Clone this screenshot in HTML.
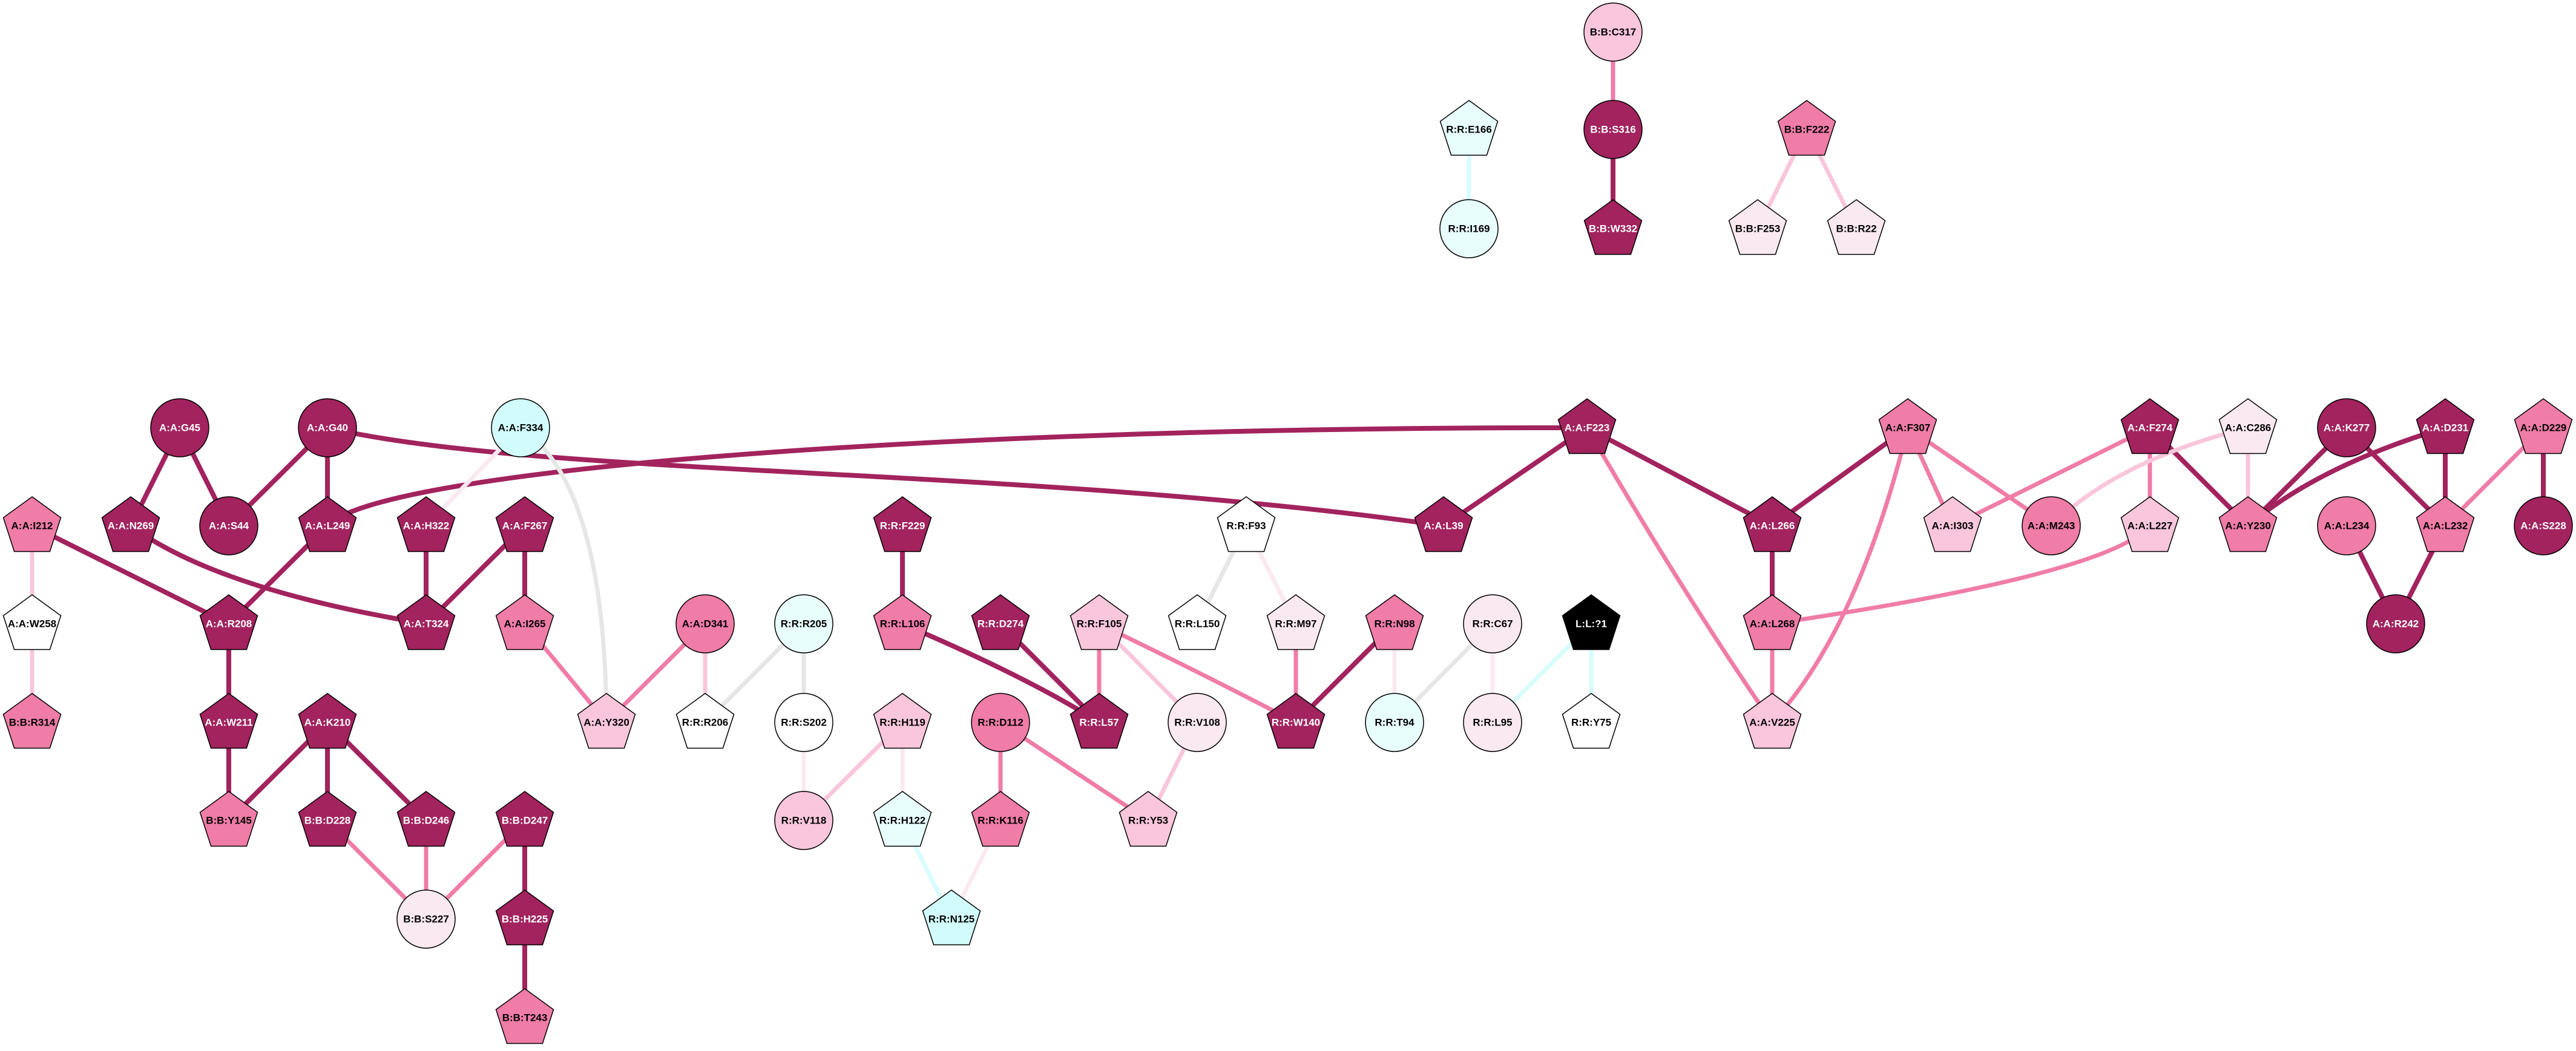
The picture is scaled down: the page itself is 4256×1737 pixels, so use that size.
<!DOCTYPE html>
<html><head><meta charset="utf-8"><style>
html,body{margin:0;padding:0;background:#fff}
svg{display:block}
text{font-family:"Liberation Sans",Arial,sans-serif;font-weight:bold;font-size:17px;text-anchor:middle;dominant-baseline:central}
.w{fill:#fff}.b{fill:#000}
</style></head><body>
<svg width="4256" height="1737" viewBox="0 0 4256 1737" xmlns="http://www.w3.org/2000/svg">
<defs>
<polygon id="p" points="0,-48 47.5,-13.5 29.4,42.5 -29.4,42.5 -47.5,-13.5" stroke="#000" stroke-width="1.5"/>
<circle id="c" r="48" stroke="#000" stroke-width="1.5"/>
</defs>
<g fill="none" stroke-linecap="butt">
<!-- dark edges -->
<g stroke="#a2235e" stroke-width="8">
<line x1="297" y1="707" x2="216" y2="869"/>
<line x1="297" y1="707" x2="378" y2="869"/>
<line x1="541" y1="707" x2="378" y2="869"/>
<line x1="541" y1="707" x2="541" y2="869"/>
<path d="M541 707 C900 790,1700 770,2385 869"/>
<path d="M541 869 C620 780,1500 705,2622 707"/>
<line x1="53" y1="869" x2="378" y2="1031"/>
<path d="M216 869 Q360 975 704 1031"/>
<line x1="541" y1="869" x2="378" y2="1031"/>
<line x1="704" y1="869" x2="704" y2="1031"/>
<line x1="867" y1="869" x2="704" y2="1031"/>
<line x1="867" y1="869" x2="867" y2="1031"/>
<line x1="378" y1="1031" x2="378" y2="1194"/>
<line x1="378" y1="1194" x2="378" y2="1356"/>
<line x1="541" y1="1194" x2="378" y2="1356"/>
<line x1="541" y1="1194" x2="541" y2="1356"/>
<line x1="541" y1="1194" x2="704" y2="1356"/>
<line x1="867" y1="1356" x2="867" y2="1519"/>
<line x1="867" y1="1519" x2="867" y2="1682"/>
<line x1="2665" y1="214" x2="2665" y2="378"/>
<line x1="1491" y1="869" x2="1491" y2="1031"/>
<path d="M1491 1031 Q1700 1120 1816 1194"/>
<line x1="1653" y1="1031" x2="1816" y2="1194"/>
<line x1="2304" y1="1031" x2="2141" y2="1194"/>
<line x1="2622" y1="707" x2="2385" y2="869"/>
<line x1="2622" y1="707" x2="2928" y2="869"/>
<line x1="3152" y1="707" x2="2928" y2="869"/>
<line x1="2928" y1="869" x2="2928" y2="1031"/>
<line x1="3552" y1="707" x2="3714" y2="869"/>
<line x1="3877" y1="707" x2="3714" y2="869"/>
<path d="M4040 707 Q3830 770 3714 869"/>
<line x1="3877" y1="707" x2="4040" y2="869"/>
<line x1="4040" y1="707" x2="4040" y2="869"/>
<line x1="4202" y1="707" x2="4202" y2="869"/>
<line x1="3877" y1="869" x2="3958" y2="1031"/>
<line x1="4040" y1="869" x2="3958" y2="1031"/>
</g>
<!-- medium pink -->
<g stroke="#f07ca8" stroke-width="7">
<line x1="2665" y1="53" x2="2665" y2="214"/>
<line x1="867" y1="1031" x2="1002" y2="1194"/>
<line x1="1165" y1="1031" x2="1002" y2="1194"/>
<line x1="541" y1="1356" x2="704" y2="1519"/>
<line x1="704" y1="1356" x2="704" y2="1519"/>
<line x1="867" y1="1356" x2="704" y2="1519"/>
<line x1="1816" y1="1031" x2="1816" y2="1194"/>
<path d="M1816 1031 Q2000 1120 2141 1194"/>
<line x1="2141" y1="1031" x2="2141" y2="1194"/>
<line x1="1653" y1="1194" x2="1653" y2="1356"/>
<line x1="1653" y1="1194" x2="1897" y2="1356"/>
<path d="M2622 707 Q2780 980 2928 1194"/>
<line x1="2928" y1="1031" x2="2928" y2="1194"/>
<path d="M3152 707 Q3070 1040 2928 1194"/>
<line x1="3152" y1="707" x2="3226" y2="869"/>
<line x1="3152" y1="707" x2="3389" y2="869"/>
<line x1="3552" y1="707" x2="3226" y2="869"/>
<line x1="3552" y1="707" x2="3552" y2="869"/>
<path d="M3552 869 Q3480 950 2928 1031"/>
<line x1="4202" y1="707" x2="4040" y2="869"/>
</g>
<!-- light pink -->
<g stroke="#f9c6dc" stroke-width="7">
<line x1="53" y1="869" x2="53" y2="1194"/>
<line x1="1165" y1="1031" x2="1165" y2="1194"/>
<line x1="1491" y1="1194" x2="1328" y2="1356"/>
<line x1="1816" y1="1031" x2="1978" y2="1194"/>
<line x1="1978" y1="1194" x2="1897" y2="1356"/>
<path d="M3714 707 Q3500 760 3389 869"/>
<line x1="3714" y1="707" x2="3714" y2="869"/>
<line x1="2985" y1="214" x2="2904" y2="378"/>
<line x1="2985" y1="214" x2="3067" y2="378"/>
</g>
<!-- very light pink -->
<g stroke="#fbe9f1" stroke-width="7">
<line x1="860" y1="707" x2="704" y2="869"/>
<line x1="1328" y1="1194" x2="1328" y2="1356"/>
<line x1="1491" y1="1194" x2="1491" y2="1356"/>
<line x1="1653" y1="1356" x2="1572" y2="1519"/>
<line x1="2059" y1="869" x2="2141" y2="1031"/>
<line x1="2304" y1="1031" x2="2304" y2="1194"/>
<line x1="2466" y1="1031" x2="2466" y2="1194"/>
</g>
<!-- gray -->
<g stroke="#e6e6e6" stroke-width="7">
<path d="M860 707 Q1000 800 1002 1194"/>
<line x1="1328" y1="1031" x2="1165" y2="1194"/>
<line x1="1328" y1="1031" x2="1328" y2="1194"/>
<line x1="2059" y1="869" x2="1978" y2="1031"/>
<line x1="2466" y1="1031" x2="2304" y2="1194"/>
</g>
<!-- cyan -->
<g stroke="#d8fdfd" stroke-width="7">
<line x1="1491" y1="1356" x2="1572" y2="1519"/>
<line x1="2629" y1="1031" x2="2466" y2="1194"/>
<line x1="2629" y1="1031" x2="2629" y2="1194"/>
<line x1="2427" y1="214" x2="2427" y2="378"/>
</g>
</g>

<!-- nodes -->
<g>
<use href="#c" x="297" y="707" fill="#a2235e"/><text x="297" y="707" class="w">A:A:G45</text>
<use href="#c" x="541" y="707" fill="#a2235e"/><text x="541" y="707" class="w">A:A:G40</text>
<use href="#c" x="860" y="707" fill="#d2fcfc"/><text x="860" y="707">A:A:F334</text>
<use href="#p" x="53" y="869" fill="#f07ca8"/><text x="53" y="869">A:A:I212</text>
<use href="#p" x="216" y="869" fill="#a2235e"/><text x="216" y="869" class="w">A:A:N269</text>
<use href="#c" x="378" y="869" fill="#a2235e"/><text x="378" y="869" class="w">A:A:S44</text>
<use href="#p" x="541" y="869" fill="#a2235e"/><text x="541" y="869" class="w">A:A:L249</text>
<use href="#p" x="704" y="869" fill="#a2235e"/><text x="704" y="869" class="w">A:A:H322</text>
<use href="#p" x="867" y="869" fill="#a2235e"/><text x="867" y="869" class="w">A:A:F267</text>
<use href="#p" x="53" y="1031" fill="#fff"/><text x="53" y="1031">A:A:W258</text>
<use href="#p" x="378" y="1031" fill="#a2235e"/><text x="378" y="1031" class="w">A:A:R208</text>
<use href="#p" x="704" y="1031" fill="#a2235e"/><text x="704" y="1031" class="w">A:A:T324</text>
<use href="#p" x="867" y="1031" fill="#f07ca8"/><text x="867" y="1031">A:A:I265</text>
<use href="#p" x="53" y="1194" fill="#f07ca8"/><text x="53" y="1194">B:B:R314</text>
<use href="#p" x="378" y="1194" fill="#a2235e"/><text x="378" y="1194" class="w">A:A:W211</text>
<use href="#p" x="541" y="1194" fill="#a2235e"/><text x="541" y="1194" class="w">A:A:K210</text>
<use href="#p" x="1002" y="1194" fill="#f9c6dc"/><text x="1002" y="1194">A:A:Y320</text>
<use href="#p" x="378" y="1356" fill="#f07ca8"/><text x="378" y="1356">B:B:Y145</text>
<use href="#p" x="541" y="1356" fill="#a2235e"/><text x="541" y="1356" class="w">B:B:D228</text>
<use href="#p" x="704" y="1356" fill="#a2235e"/><text x="704" y="1356" class="w">B:B:D246</text>
<use href="#p" x="867" y="1356" fill="#a2235e"/><text x="867" y="1356" class="w">B:B:D247</text>
<use href="#c" x="704" y="1519" fill="#fbe9f1"/><text x="704" y="1519">B:B:S227</text>
<use href="#p" x="867" y="1519" fill="#a2235e"/><text x="867" y="1519" class="w">B:B:H225</text>
<use href="#p" x="867" y="1682" fill="#f07ca8"/><text x="867" y="1682">B:B:T243</text>

<use href="#p" x="1491" y="869" fill="#a2235e"/><text x="1491" y="869" class="w">R:R:F229</text>
<use href="#p" x="2059" y="869" fill="#fff"/><text x="2059" y="869">R:R:F93</text>
<use href="#c" x="1165" y="1031" fill="#f07ca8"/><text x="1165" y="1031">A:A:D341</text>
<use href="#c" x="1328" y="1031" fill="#e8fefd"/><text x="1328" y="1031">R:R:R205</text>
<use href="#p" x="1491" y="1031" fill="#f07ca8"/><text x="1491" y="1031">R:R:L106</text>
<use href="#p" x="1653" y="1031" fill="#a2235e"/><text x="1653" y="1031" class="w">R:R:D274</text>
<use href="#p" x="1816" y="1031" fill="#f9c6dc"/><text x="1816" y="1031">R:R:F105</text>
<use href="#p" x="1978" y="1031" fill="#fff"/><text x="1978" y="1031">R:R:L150</text>
<use href="#p" x="2141" y="1031" fill="#fbe9f1"/><text x="2141" y="1031">R:R:M97</text>
<use href="#p" x="1165" y="1194" fill="#fff"/><text x="1165" y="1194">R:R:R206</text>
<use href="#c" x="1328" y="1194" fill="#fff"/><text x="1328" y="1194">R:R:S202</text>
<use href="#p" x="1491" y="1194" fill="#f9c6dc"/><text x="1491" y="1194">R:R:H119</text>
<use href="#c" x="1653" y="1194" fill="#f07ca8"/><text x="1653" y="1194">R:R:D112</text>
<use href="#p" x="1816" y="1194" fill="#a2235e"/><text x="1816" y="1194" class="w">R:R:L57</text>
<use href="#c" x="1978" y="1194" fill="#fbe9f1"/><text x="1978" y="1194">R:R:V108</text>
<use href="#p" x="2141" y="1194" fill="#a2235e"/><text x="2141" y="1194" class="w">R:R:W140</text>
<use href="#c" x="1328" y="1356" fill="#f9c6dc"/><text x="1328" y="1356">R:R:V118</text>
<use href="#p" x="1491" y="1356" fill="#e8fefd"/><text x="1491" y="1356">R:R:H122</text>
<use href="#p" x="1653" y="1356" fill="#f07ca8"/><text x="1653" y="1356">R:R:K116</text>
<use href="#p" x="1897" y="1356" fill="#f9c6dc"/><text x="1897" y="1356">R:R:Y53</text>
<use href="#p" x="1572" y="1519" fill="#d2fcfc"/><text x="1572" y="1519">R:R:N125</text>

<use href="#p" x="2622" y="707" fill="#a2235e"/><text x="2622" y="707" class="w">A:A:F223</text>
<use href="#p" x="3152" y="707" fill="#f07ca8"/><text x="3152" y="707">A:A:F307</text>
<use href="#p" x="2385" y="869" fill="#a2235e"/><text x="2385" y="869" class="w">A:A:L39</text>
<use href="#p" x="2928" y="869" fill="#a2235e"/><text x="2928" y="869" class="w">A:A:L266</text>
<use href="#p" x="2304" y="1031" fill="#f07ca8"/><text x="2304" y="1031">R:R:N98</text>
<use href="#c" x="2466" y="1031" fill="#fbe9f1"/><text x="2466" y="1031">R:R:C67</text>
<use href="#p" x="2629" y="1031" fill="#000"/><text x="2629" y="1031" class="w">L:L:?1</text>
<use href="#p" x="2928" y="1031" fill="#f07ca8"/><text x="2928" y="1031">A:A:L268</text>
<use href="#c" x="2304" y="1194" fill="#e8fefd"/><text x="2304" y="1194">R:R:T94</text>
<use href="#c" x="2466" y="1194" fill="#fbe9f1"/><text x="2466" y="1194">R:R:L95</text>
<use href="#p" x="2629" y="1194" fill="#fff"/><text x="2629" y="1194">R:R:Y75</text>
<use href="#p" x="2928" y="1194" fill="#f9c6dc"/><text x="2928" y="1194">A:A:V225</text>

<use href="#p" x="3552" y="707" fill="#a2235e"/><text x="3552" y="707" class="w">A:A:F274</text>
<use href="#p" x="3714" y="707" fill="#fbe9f1"/><text x="3714" y="707">A:A:C286</text>
<use href="#c" x="3877" y="707" fill="#a2235e"/><text x="3877" y="707" class="w">A:A:K277</text>
<use href="#p" x="4040" y="707" fill="#a2235e"/><text x="4040" y="707" class="w">A:A:D231</text>
<use href="#p" x="4202" y="707" fill="#f07ca8"/><text x="4202" y="707">A:A:D229</text>
<use href="#p" x="3226" y="869" fill="#f9c6dc"/><text x="3226" y="869">A:A:I303</text>
<use href="#c" x="3389" y="869" fill="#f07ca8"/><text x="3389" y="869">A:A:M243</text>
<use href="#p" x="3552" y="869" fill="#f9c6dc"/><text x="3552" y="869">A:A:L227</text>
<use href="#p" x="3714" y="869" fill="#f07ca8"/><text x="3714" y="869">A:A:Y230</text>
<use href="#c" x="3877" y="869" fill="#f07ca8"/><text x="3877" y="869">A:A:L234</text>
<use href="#p" x="4040" y="869" fill="#f07ca8"/><text x="4040" y="869">A:A:L232</text>
<use href="#c" x="4202" y="869" fill="#a2235e"/><text x="4202" y="869" class="w">A:A:S228</text>
<use href="#c" x="3958" y="1031" fill="#a2235e"/><text x="3958" y="1031" class="w">A:A:R242</text>

<use href="#p" x="2427" y="214" fill="#e8fefd"/><text x="2427" y="214">R:R:E166</text>
<use href="#c" x="2427" y="378" fill="#e8fefd"/><text x="2427" y="378">R:R:I169</text>
<use href="#c" x="2665" y="53" fill="#f9c6dc"/><text x="2665" y="53">B:B:C317</text>
<use href="#c" x="2665" y="214" fill="#a2235e"/><text x="2665" y="214" class="w">B:B:S316</text>
<use href="#p" x="2665" y="378" fill="#a2235e"/><text x="2665" y="378" class="w">B:B:W332</text>
<use href="#p" x="2985" y="214" fill="#f07ca8"/><text x="2985" y="214">B:B:F222</text>
<use href="#p" x="2904" y="378" fill="#fbe9f1"/><text x="2904" y="378">B:B:F253</text>
<use href="#p" x="3067" y="378" fill="#fbe9f1"/><text x="3067" y="378">B:B:R22</text>
</g>
</svg>
</body></html>
